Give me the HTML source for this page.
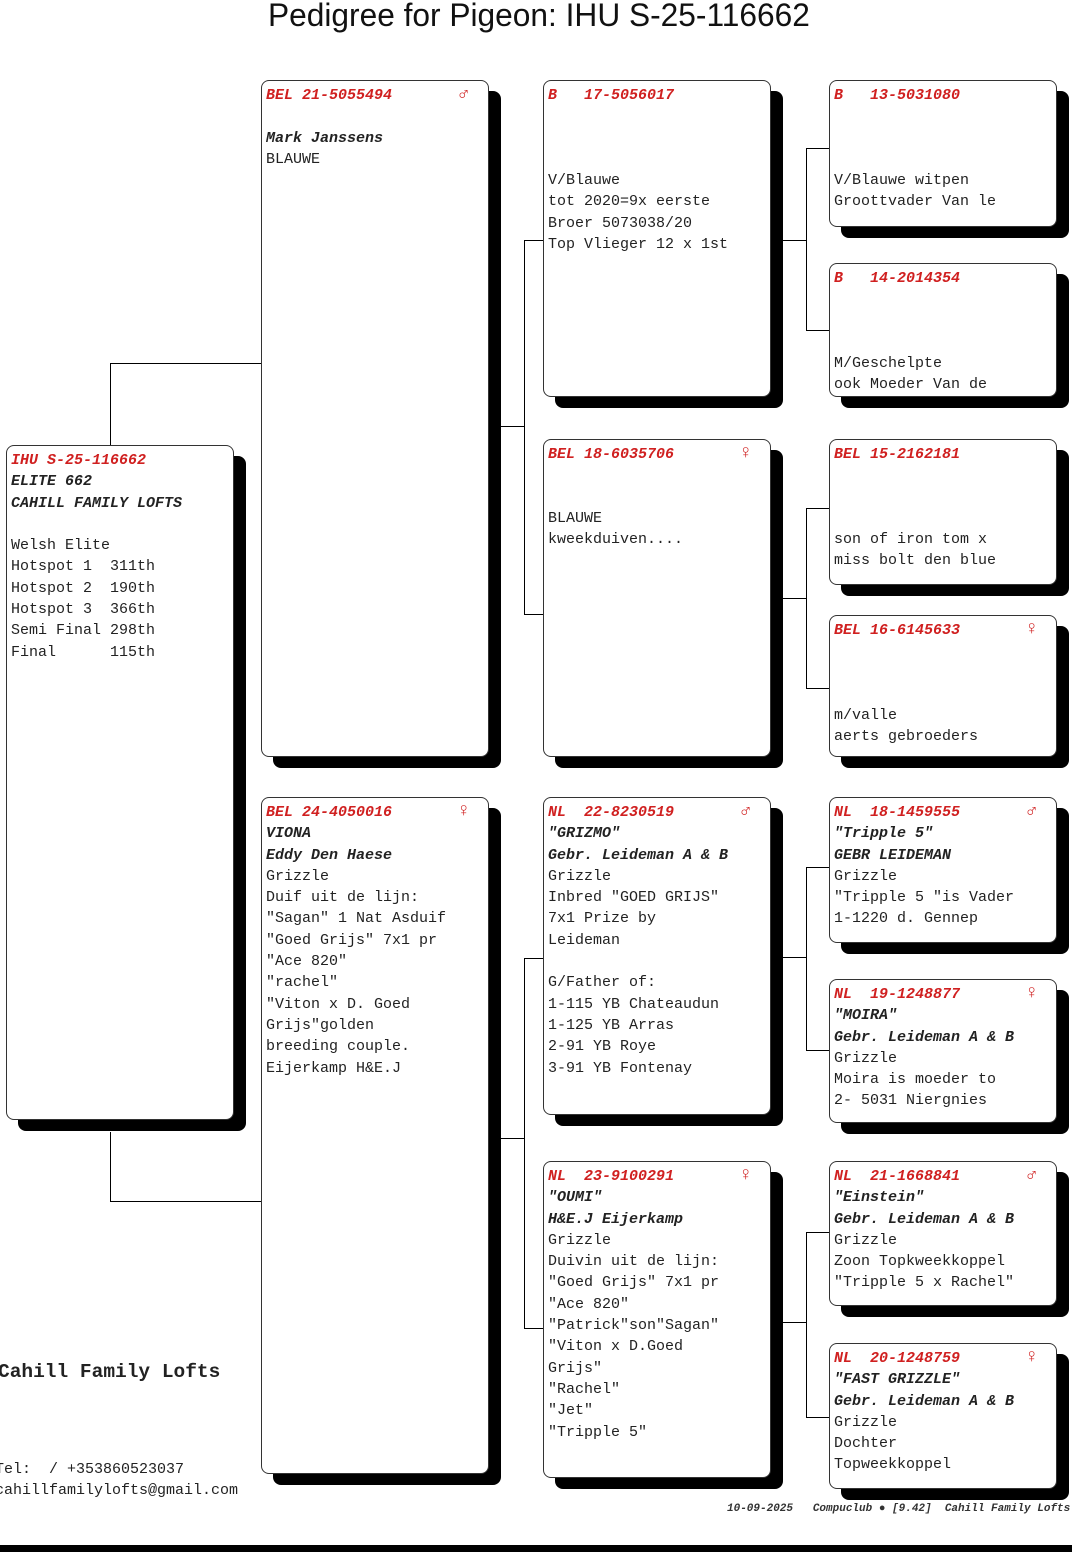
<!DOCTYPE html>
<html><head><meta charset="utf-8"><style>
*{margin:0;padding:0;box-sizing:border-box}
body{width:1072px;height:1552px;background:#fff;position:relative;overflow:hidden;font-family:"Liberation Mono",monospace;font-size:15px;color:#222}
.b{position:absolute;border:1.5px solid #333;border-radius:8px;background:#fff;box-shadow:12px 11px 0 #000;padding:4px 0 0 4px;line-height:21.3px;white-space:pre;overflow:hidden}
.h{color:#d02020;font-weight:bold;font-style:italic;position:relative}
.s{position:absolute;left:192px;top:-3px;color:#d02020;font-style:normal;font-size:19px;font-weight:bold}
.i{font-weight:bold;font-style:italic}
.l{position:absolute;background:#000}
.t{position:absolute;white-space:pre}
</style></head><body>
<div class="t" style="left:268px;top:-3px;font-family:'Liberation Sans',sans-serif;font-size:32px;color:#111;transform-origin:0 0;transform:scaleX(0.99)">Pedigree for Pigeon: IHU S-25-116662</div>

<!-- connectors -->
<div class="l" style="left:110px;top:363px;width:1px;height:82px"></div>
<div class="l" style="left:110px;top:363px;width:151px;height:1px"></div>
<div class="l" style="left:110px;top:1132px;width:1px;height:70px"></div>
<div class="l" style="left:110px;top:1201px;width:151px;height:1px"></div>

<div class="l" style="left:501px;top:426px;width:23px;height:1px"></div>
<div class="l" style="left:524px;top:240px;width:1px;height:374px"></div>
<div class="l" style="left:524px;top:240px;width:19px;height:1px"></div>
<div class="l" style="left:524px;top:614px;width:19px;height:1px"></div>
<div class="l" style="left:501px;top:1138px;width:23px;height:1px"></div>
<div class="l" style="left:524px;top:958px;width:1px;height:370px"></div>
<div class="l" style="left:524px;top:958px;width:19px;height:1px"></div>
<div class="l" style="left:524px;top:1328px;width:19px;height:1px"></div>

<div class="l" style="left:783px;top:240px;width:23px;height:1px"></div>
<div class="l" style="left:806px;top:148px;width:1px;height:182px"></div>
<div class="l" style="left:806px;top:148px;width:23px;height:1px"></div>
<div class="l" style="left:806px;top:330px;width:23px;height:1px"></div>
<div class="l" style="left:783px;top:598px;width:23px;height:1px"></div>
<div class="l" style="left:806px;top:508px;width:1px;height:180px"></div>
<div class="l" style="left:806px;top:508px;width:23px;height:1px"></div>
<div class="l" style="left:806px;top:688px;width:23px;height:1px"></div>
<div class="l" style="left:783px;top:957px;width:23px;height:1px"></div>
<div class="l" style="left:806px;top:867px;width:1px;height:183px"></div>
<div class="l" style="left:806px;top:867px;width:23px;height:1px"></div>
<div class="l" style="left:806px;top:1050px;width:23px;height:1px"></div>
<div class="l" style="left:783px;top:1322px;width:23px;height:1px"></div>
<div class="l" style="left:806px;top:1232px;width:1px;height:185px"></div>
<div class="l" style="left:806px;top:1232px;width:23px;height:1px"></div>
<div class="l" style="left:806px;top:1417px;width:23px;height:1px"></div>

<!-- col0 -->
<div class="b" style="left:6px;top:445px;width:228px;height:675px"><span class="h">IHU S-25-116662</span>
<span class="i">ELITE 662</span>
<span class="i">CAHILL FAMILY LOFTS</span>

Welsh Elite
Hotspot 1  311th
Hotspot 2  190th
Hotspot 3  366th
Semi Final 298th
Final      115th</div>

<!-- col1 -->
<div class="b" style="left:261px;top:80px;width:228px;height:677px"><span class="h">BEL 21-5055494<span class="s">♂</span></span>

<span class="i">Mark Janssens</span>
BLAUWE</div>
<div class="b" style="left:261px;top:797px;width:228px;height:677px"><span class="h">BEL 24-4050016<span class="s">♀</span></span>
<span class="i">VIONA</span>
<span class="i">Eddy Den Haese</span>
Grizzle
Duif uit de lijn:
"Sagan" 1 Nat Asduif
"Goed Grijs" 7x1 pr
"Ace 820"
"rachel"
"Viton x D. Goed
Grijs"golden
breeding couple.
Eijerkamp H&amp;E.J</div>

<!-- col2 -->
<div class="b" style="left:543px;top:80px;width:228px;height:317px"><span class="h">B   17-5056017</span>



V/Blauwe
tot 2020=9x eerste
Broer 5073038/20
Top Vlieger 12 x 1st</div>
<div class="b" style="left:543px;top:439px;width:228px;height:318px"><span class="h">BEL 18-6035706<span class="s">♀</span></span>


BLAUWE
kweekduiven....</div>
<div class="b" style="left:543px;top:797px;width:228px;height:318px"><span class="h">NL  22-8230519<span class="s">♂</span></span>
<span class="i">"GRIZMO"</span>
<span class="i">Gebr. Leideman A &amp; B</span>
Grizzle
Inbred "GOED GRIJS"
7x1 Prize by
Leideman

G/Father of:
1-115 YB Chateaudun
1-125 YB Arras
2-91 YB Roye
3-91 YB Fontenay</div>
<div class="b" style="left:543px;top:1161px;width:228px;height:317px"><span class="h">NL  23-9100291<span class="s">♀</span></span>
<span class="i">"OUMI"</span>
<span class="i">H&amp;E.J Eijerkamp</span>
Grizzle
Duivin uit de lijn:
"Goed Grijs" 7x1 pr
"Ace 820"
"Patrick"son"Sagan"
"Viton x D.Goed
Grijs"
"Rachel"
"Jet"
"Tripple 5"</div>

<!-- col3 -->
<div class="b" style="left:829px;top:80px;width:228px;height:147px"><span class="h">B   13-5031080</span>



V/Blauwe witpen
Groottvader Van le</div>
<div class="b" style="left:829px;top:263px;width:228px;height:134px"><span class="h">B   14-2014354</span>



M/Geschelpte
ook Moeder Van de</div>
<div class="b" style="left:829px;top:439px;width:228px;height:146px"><span class="h">BEL 15-2162181</span>



son of iron tom x
miss bolt den blue</div>
<div class="b" style="left:829px;top:615px;width:228px;height:142px"><span class="h">BEL 16-6145633<span class="s">♀</span></span>



m/valle
aerts gebroeders</div>
<div class="b" style="left:829px;top:797px;width:228px;height:146px"><span class="h">NL  18-1459555<span class="s">♂</span></span>
<span class="i">"Tripple 5"</span>
<span class="i">GEBR LEIDEMAN</span>
Grizzle
"Tripple 5 "is Vader
1-1220 d. Gennep</div>
<div class="b" style="left:829px;top:979px;width:228px;height:144px"><span class="h">NL  19-1248877<span class="s">♀</span></span>
<span class="i">"MOIRA"</span>
<span class="i">Gebr. Leideman A &amp; B</span>
Grizzle
Moira is moeder to
2- 5031 Niergnies</div>
<div class="b" style="left:829px;top:1161px;width:228px;height:145px"><span class="h">NL  21-1668841<span class="s">♂</span></span>
<span class="i">"Einstein"</span>
<span class="i">Gebr. Leideman A &amp; B</span>
Grizzle
Zoon Topkweekkoppel
"Tripple 5 x Rachel"</div>
<div class="b" style="left:829px;top:1343px;width:228px;height:146px"><span class="h">NL  20-1248759<span class="s">♀</span></span>
<span class="i">"FAST GRIZZLE"</span>
<span class="i">Gebr. Leideman A &amp; B</span>
Grizzle
Dochter
Topweekkoppel</div>

<div class="t" style="left:-2px;top:1361px;font-size:19.5px;font-weight:bold">Cahill Family Lofts</div>
<div class="t" style="left:-5px;top:1461px;font-size:15px">Tel:  / +353860523037</div>
<div class="t" style="left:-5px;top:1482px;font-size:15px">cahillfamilylofts@gmail.com</div>
<div class="t" style="left:727px;top:1503px;font-size:11px;font-style:italic;font-weight:bold;color:#333">10-09-2025   Compuclub ● [9.42]  Cahill Family Lofts</div>
<div class="l" style="left:0;top:1545px;width:1072px;height:7px"></div>
</body></html>
